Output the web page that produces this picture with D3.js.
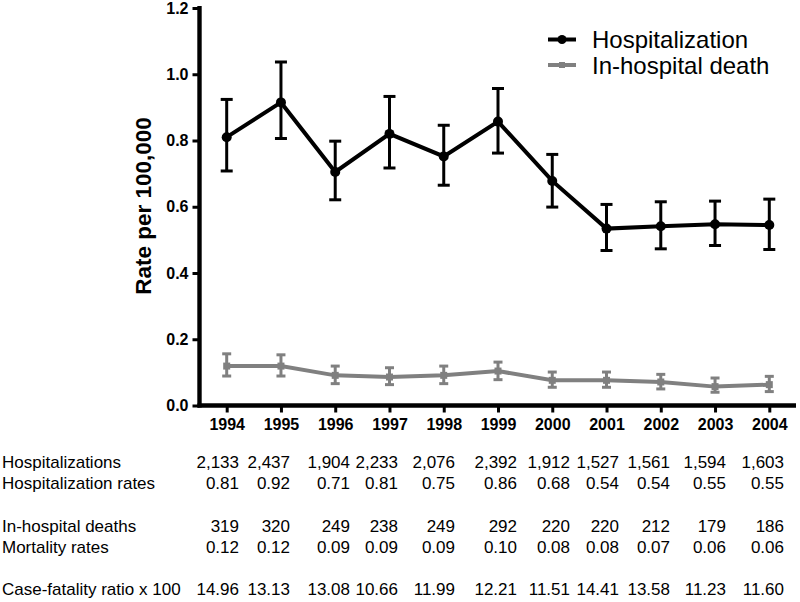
<!DOCTYPE html>
<html>
<head>
<meta charset="utf-8">
<script src="https://cdn.jsdelivr.net/npm/d3@7"></script>
<style>
  html, body { margin: 0; padding: 0; background: #fff; }
  svg { display: block; }
  text { font-family: Arial, "Liberation Sans", Helvetica, sans-serif; }
</style>
</head>
<body>
<svg id="chart" width="800" height="602"></svg>
<script>
// ---------------- DATA ----------------
const years = ["1994","1995","1996","1997","1998","1999","2000","2001","2002","2003","2004"];
const hospRate  = [0.810, 0.915, 0.705, 0.820, 0.752, 0.857, 0.678, 0.534, 0.541, 0.547, 0.545];
const hospLow   = [0.708, 0.806, 0.621, 0.717, 0.665, 0.762, 0.599, 0.468, 0.473, 0.483, 0.471];
const hospHigh  = [0.924, 1.037, 0.798, 0.933, 0.846, 0.957, 0.758, 0.607, 0.615, 0.617, 0.623];
const deathRate = [0.119, 0.119, 0.091, 0.086, 0.091, 0.104, 0.076, 0.076, 0.071, 0.057, 0.063];
const deathLow  = [0.089, 0.089, 0.066, 0.063, 0.066, 0.078, 0.055, 0.055, 0.050, 0.040, 0.042];
const deathHigh = [0.156, 0.153, 0.119, 0.114, 0.119, 0.131, 0.101, 0.101, 0.094, 0.083, 0.088];
const yTicks = [0, 0.2, 0.4, 0.6, 0.8, 1.0, 1.2];
const seriesNames = ["Hospitalization", "In-hospital death"];
const yTitle = "Rate per 100,000";

const rowLabels = ["Hospitalizations", "Hospitalization rates", "In-hospital deaths", "Mortality rates", "Case-fatality ratio x 100"];
const hospitalizations = ["2,133","2,437","1,904","2,233","2,076","2,392","1,912","1,527","1,561","1,594","1,603"];
const hospitalizationRates = ["0.81","0.92","0.71","0.81","0.75","0.86","0.68","0.54","0.54","0.55","0.55"];
const inHospitalDeaths = ["319","320","249","238","249","292","220","220","212","179","186"];
const mortalityRates = ["0.12","0.12","0.09","0.09","0.09","0.10","0.08","0.08","0.07","0.06","0.06"];
const caseFatality = ["14.96","13.13","13.08","10.66","11.99","12.21","11.51","14.41","13.58","11.23","11.60"];

// ---------------- LAYOUT ----------------
const tableColRight = [239, 290, 350, 398, 455, 517, 570, 619, 670, 726, 784];
const tableRowBaseline = [468, 489, 532, 553, 595];

const svg = d3.select("#chart");
const x = d3.scalePoint().domain(years).range([226.7, 769.3]);
const y = d3.scaleLinear().domain([0, 1.2]).range([405.5, 8]);
const black = "#000";
const gray = "#808080";

// Axes
const yAxisG = svg.append("g").attr("transform", "translate(199.5,0)")
  .call(d3.axisLeft(y).tickValues(yTicks).tickFormat(d3.format(".1f")).tickSize(7).tickPadding(4));
yAxisG.select(".domain").attr("stroke", black).attr("stroke-width", 4.4)
  .attr("d", `M0,${y(1.2) - 2}V${y(0) + 2}`);
yAxisG.selectAll(".tick line").attr("stroke", black).attr("stroke-width", 3);
yAxisG.selectAll(".tick text").attr("font-size", 16).attr("font-weight", "bold").attr("fill", black)
  .attr("font-family", "Arial, 'Liberation Sans', sans-serif");

const xAxisG = svg.append("g").attr("transform", `translate(0,${y(0)})`)
  .call(d3.axisBottom(x).tickSize(7).tickPadding(6));
xAxisG.select(".domain").attr("stroke", black).attr("stroke-width", 4.4)
  .attr("d", "M197.5,0H796");
xAxisG.selectAll(".tick line").attr("stroke", black).attr("stroke-width", 3);
xAxisG.selectAll(".tick text").attr("font-size", 16).attr("font-weight", "bold").attr("fill", black)
  .attr("font-family", "Arial, 'Liberation Sans', sans-serif");

// Y title
svg.append("text")
  .attr("transform", `translate(151,206) rotate(-90)`)
  .attr("text-anchor", "middle")
  .attr("font-size", 22.5).attr("font-weight", "bold")
  .text(yTitle);

// Series drawing helper
function drawSeries(vals, lows, highs, color, lineW, capW, marker) {
  const g = svg.append("g");
  const pts = years.map((yr, i) => ({yr, v: vals[i], lo: lows[i], hi: highs[i]}));
  g.selectAll("line.eb").data(pts).join("line")
    .attr("x1", d => x(d.yr)).attr("x2", d => x(d.yr))
    .attr("y1", d => y(d.lo)).attr("y2", d => y(d.hi))
    .attr("stroke", color).attr("stroke-width", 3);
  ["lo", "hi"].forEach(k => {
    g.selectAll("line.cap" + k).data(pts).join("line")
      .attr("x1", d => x(d.yr) - capW / 2).attr("x2", d => x(d.yr) + capW / 2)
      .attr("y1", d => y(d[k])).attr("y2", d => y(d[k]))
      .attr("stroke", color).attr("stroke-width", 3);
  });
  g.append("path").datum(pts)
    .attr("d", d3.line().x(d => x(d.yr)).y(d => y(d.v)))
    .attr("fill", "none").attr("stroke", color).attr("stroke-width", lineW)
    .attr("stroke-linejoin", "miter");
  if (marker === "circle") {
    g.selectAll("circle").data(pts).join("circle")
      .attr("cx", d => x(d.yr)).attr("cy", d => y(d.v)).attr("r", 5).attr("fill", color);
  } else {
    g.selectAll("rect").data(pts).join("rect")
      .attr("x", d => x(d.yr) - 3.5).attr("y", d => y(d.v) - 3.5)
      .attr("width", 7).attr("height", 7).attr("fill", color);
  }
}
drawSeries(deathRate, deathLow, deathHigh, gray, 4, 9, "square");
drawSeries(hospRate, hospLow, hospHigh, black, 4, 12, "circle");

// Legend
const legend = svg.append("g");
const legendItems = [
  {name: seriesNames[0], color: black, marker: "circle", cy: 39.5},
  {name: seriesNames[1], color: gray, marker: "square", cy: 65}
];
legendItems.forEach(it => {
  legend.append("line").attr("x1", 548).attr("x2", 576).attr("y1", it.cy).attr("y2", it.cy)
    .attr("stroke", it.color).attr("stroke-width", 4);
  if (it.marker === "circle") {
    legend.append("circle").attr("cx", 562).attr("cy", it.cy).attr("r", 4.5).attr("fill", it.color);
  } else {
    legend.append("rect").attr("x", 559).attr("y", it.cy - 3).attr("width", 6).attr("height", 6).attr("fill", it.color);
  }
  legend.append("text").attr("x", 592).attr("y", it.cy + 8.5)
    .attr("font-size", 24).attr("fill", "#000").text(it.name);
});

// Table
const tableRows = [hospitalizations, hospitalizationRates, inHospitalDeaths, mortalityRates, caseFatality];
const table = svg.append("g").attr("font-size", 17).attr("fill", "#000");
tableRows.forEach((row, r) => {
  table.append("text").attr("x", 2).attr("y", tableRowBaseline[r]).text(rowLabels[r]);
  row.forEach((val, c) => {
    table.append("text").attr("x", tableColRight[c]).attr("y", tableRowBaseline[r])
      .attr("text-anchor", "end").text(val);
  });
});
</script>
</body>
</html>
